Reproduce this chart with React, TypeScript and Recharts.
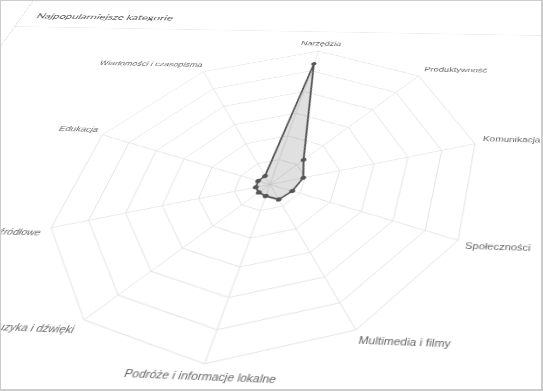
import React from "react";
import { RadarChart, Radar, PolarGrid, PolarAngleAxis, PolarRadiusAxis } from "recharts";

const categories = [
  "Narzędzia",
  "Produktywność",
  "Komunikacja",
  "Społeczności",
  "Multimedia i filmy",
  "Podróże i informacje lokalne",
  "Muzyka i dźwięki",
  "Książki i materiały źródłowe",
  "Edukacja",
  "Wiadomości i czasopisma",
];
const appCounts = [53.5, 12.5, 9.5, 7.5, 7, 4.5, 4, 4, 4, 4];
const radiusDomain = [0, 60];

const data = categories.map((name, i) => ({ name, value: appCounts[i] }));

// flat card layout, before the tilt
const CARD_W = 780;
const CARD_H = 646;
const BORDER = 1;
const HEADER_H = 70;
const CHART_W = 778;
const CHART_H = 560;
const CX = 380;
const CY = 245;
const RADIUS = 210;

// where four of the outer grid corners end up on the tilted screenshot
const tiltTargets: [number, number][] = [
  [418.7, 76], // Produktywność
  [356, 330], // Multimedia i filmy
  [84, 320], // Muzyka i dźwięki
  [203.3, 71.7], // Wiadomości i czasopisma
];
const tiltIndexes = [1, 4, 6, 9];

function solveLinear(A: number[][], b: number[]) {
  const n = b.length;
  const M = A.map((row, i) => [...row, b[i]]);
  for (let c = 0; c < n; c++) {
    let p = c;
    for (let r = c + 1; r < n; r++) if (Math.abs(M[r][c]) > Math.abs(M[p][c])) p = r;
    const tmp = M[c];
    M[c] = M[p];
    M[p] = tmp;
    for (let r = 0; r < n; r++) {
      if (r === c) continue;
      const f = M[r][c] / M[c][c];
      for (let k = c; k <= n; k++) M[r][k] -= f * M[c][k];
    }
  }
  return M.map((row, i) => row[n] / row[i]);
}

function tiltMatrix() {
  const A: number[][] = [];
  const b: number[] = [];
  tiltIndexes.forEach((idx, k) => {
    const a = ((90 - idx * 36) * Math.PI) / 180;
    const x = BORDER + CX + RADIUS * Math.cos(a);
    const y = BORDER + HEADER_H + CY - RADIUS * Math.sin(a);
    const [u, v] = tiltTargets[k];
    A.push([x, y, 1, 0, 0, 0, -u * x, -u * y]);
    b.push(u);
    A.push([0, 0, 0, x, y, 1, -v * x, -v * y]);
    b.push(v);
  });
  const h = solveLinear(A, b);
  return `matrix3d(${h[0]},${h[3]},0,${h[6]},${h[1]},${h[4]},0,${h[7]},0,0,1,0,${h[2]},${h[5]},0,1)`;
}

function CategoryTick(props: any) {
  const { x, y, payload, index, textAnchor } = props;
  const a = ((90 - index * 36) * Math.PI) / 180;
  const upper = Math.sin(a) > 0.01;
  return (
    <text
      x={x}
      y={y}
      dy={upper ? -2 : 8}
      textAnchor={textAnchor}
      fill="#666"
      fontSize={10.5}
      fontFamily="'Liberation Sans', Arial, sans-serif"
    >
      {payload.value}
    </text>
  );
}

export default function App() {
  return (
    <div style={{ position: "absolute", left: 0, top: 0, width: 543, height: 391, overflow: "hidden", background: "#fff" }}>
      <div
        style={{
          position: "absolute",
          left: 0,
          top: 0,
          width: CARD_W,
          height: CARD_H,
          boxSizing: "border-box",
          border: `${BORDER}px solid #e4e4e4`,
          background: "#fff",
          transformOrigin: "0 0",
          transform: tiltMatrix(),
        }}
      >
        <div
          style={{
            position: "absolute",
            left: 0,
            top: 0,
            width: CARD_W - 2 * BORDER,
            height: HEADER_H,
            boxSizing: "border-box",
            borderBottom: "1px solid #ececec",
            padding: "39px 18px 0",
            fontFamily: "Lato, 'Open Sans', sans-serif",
            fontSize: 14,
            color: "#555",
          }}
        >
          Najpopularniejsze kategorie
        </div>
        <div style={{ position: "absolute", left: 0, top: HEADER_H }}>
          <RadarChart
            width={CHART_W}
            height={CHART_H}
            data={data}
            cx={CX}
            cy={CY}
            outerRadius={RADIUS}
            margin={{ top: 0, right: 0, bottom: 0, left: 0 }}
          >
            <PolarGrid stroke="#e3e3e3" strokeWidth={1} />
            <PolarAngleAxis dataKey="name" tick={<CategoryTick />} tickLine={false} axisLine={false} />
            <PolarRadiusAxis domain={radiusDomain} tickCount={7} tick={false} axisLine={false} />
            <Radar
              dataKey="value"
              stroke="#555"
              strokeWidth={2}
              fill="#000"
              fillOpacity={0.12}
              dot={{ r: 2.5, fill: "#555", fillOpacity: 1, stroke: "#555", strokeWidth: 1 }}
              isAnimationActive={false}
            />
          </RadarChart>
        </div>
      </div>
      <div
        style={{
          position: "absolute",
          left: 0,
          top: 0,
          width: 543,
          height: 391,
          boxSizing: "border-box",
          border: "1px solid #cccccc",
          borderRightWidth: 2,
          borderBottomWidth: 2,
          pointerEvents: "none",
        }}
      />
    </div>
  );
}
